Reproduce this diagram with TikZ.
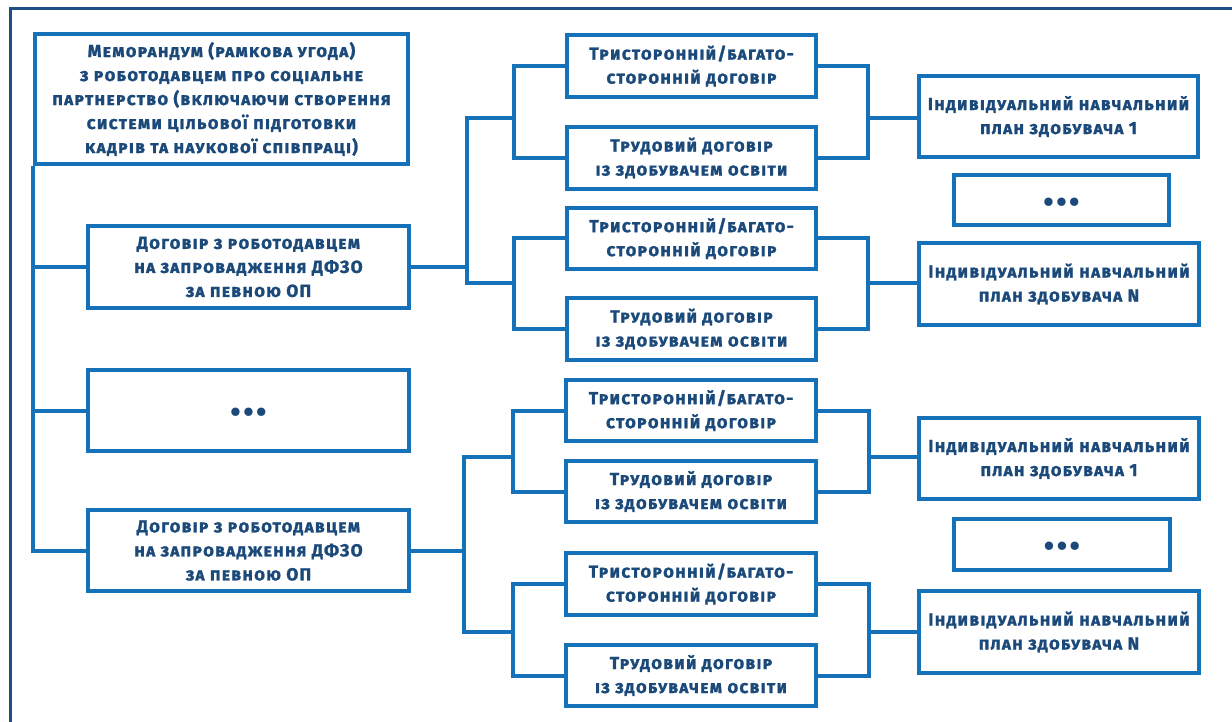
\documentclass[tikz,border=0pt]{standalone}
\usepackage{fontspec}
\setmainfont{Fira Sans}
\newfontfamily\boxfont{Fira Sans}[LetterSpace=7, FakeBold=1.2]
\definecolor{txtc}{HTML}{1B4A7A}
\definecolor{boxc}{HTML}{1571B8}
\definecolor{framec}{HTML}{1D4E84}
\tikzset{
  box/.style={draw=boxc, line width=4pt, fill=white, inner sep=0pt, align=center,
    text=txtc, font=\boxfont\fontsize{17.5}{24}\selectfont\bfseries\scshape},
  conn/.style={draw=boxc, line width=4pt},
  dotsbox/.style={box, font=\fontsize{30}{24}\selectfont\bfseries}
}
\newcommand{\threedots}{\raisebox{-5pt}[\height][\depth]{•\kern2.5pt•\kern2.5pt•}}
\begin{document}
\begin{tikzpicture}[x=1pt,y=-1pt]
\useasboundingbox (0,0) rectangle (1232,722);
% outer frame
\coordinate (fa) at (10,9);
\coordinate (fb) at (1240,9);
\coordinate (fc) at (10,730);
\draw[framec, line width=3pt] (fb) -- (fa) -- (fc);

\node[box, minimum width=373pt, minimum height=130pt] (mem) at (221.5,99)
  {Меморандум (рамкова угода)\\з роботодавцем про соціальне\\партнерство (включаючи створення\\системи цільової підготовки\\кадрів та наукової співпраці)};
\node[box, minimum width=321pt, minimum height=82pt] (d1) at (248.5,267)
  {Договір з роботодавцем\\на запровадження ДФЗО\\за певною ОП};
\node[dotsbox, minimum width=321pt, minimum height=81pt] (dl) at (248.5,410.5) {\threedots};
\node[box, minimum width=321pt, minimum height=81pt] (d2) at (248.5,550.5)
  {Договір з роботодавцем\\на запровадження ДФЗО\\за певною ОП};

\node[box, minimum width=249pt, minimum height=62pt] (t1) at (691.5,66) {Тристоронній/багато-\\сторонній договір};
\node[box, minimum width=249pt, minimum height=62pt] (r1) at (691.5,158) {Трудовий договір\\із здобувачем освіти};
\node[box, minimum width=249pt, minimum height=61pt] (t2) at (691.5,238.5) {Тристоронній/багато-\\сторонній договір};
\node[box, minimum width=249pt, minimum height=62pt] (r2) at (691.5,329) {Трудовий договір\\із здобувачем освіти};
\node[box, minimum width=250pt, minimum height=61pt] (t3) at (691,410.5) {Тристоронній/багато-\\сторонній договір};
\node[box, minimum width=250pt, minimum height=61pt] (r3) at (691,491.5) {Трудовий договір\\із здобувачем освіти};
\node[box, minimum width=250pt, minimum height=62pt] (t4) at (691,584) {Тристоронній/багато-\\сторонній договір};
\node[box, minimum width=250pt, minimum height=61pt] (r4) at (691,675.5) {Трудовий договір\\із здобувачем освіти};

\node[box, minimum width=279pt, minimum height=81pt] (ip1) at (1058.5,116.5) {Індивідуальний навчальний\\план здобувача 1};
\node[dotsbox, minimum width=215pt, minimum height=50pt] (e1) at (1061.5,200) {\threedots};
\node[box, minimum width=280pt, minimum height=82pt] (ipN) at (1059,284) {Індивідуальний навчальний\\план здобувача N};
\node[box, minimum width=280pt, minimum height=81pt] (ip1b) at (1059,458.5) {Індивідуальний навчальний\\план здобувача 1};
\node[dotsbox, minimum width=216pt, minimum height=51pt] (e2) at (1062,544.5) {\threedots};
\node[box, minimum width=280pt, minimum height=82pt] (ipNb) at (1059,632) {Індивідуальний навчальний\\план здобувача N};

% junction coordinates
\coordinate (ja) at (467,267);
\coordinate (jb1) at (514,118);
\coordinate (jb2) at (514,283);
\coordinate (jc1) at (868,118);
\coordinate (jc2) at (868,283);
\coordinate (ka) at (464,550.5);
\coordinate (kb1) at (513,457);
\coordinate (kb2) at (513,632);
\coordinate (kc1) at (869,457);
\coordinate (kc2) at (869,632);

% left trunk
\draw[conn] (mem.south west) |- (d1.west);
\draw[conn] (mem.south west) |- (dl.west);
\draw[conn] (mem.south west) |- (d2.west);

% top group
\draw[conn] (d1.east) -- (d1.east -| ja);
\draw[conn] (jb1) -| (ja) |- (jb2);
\draw[conn] (t1.west) -| (jb1) |- (r1.west);
\draw[conn] (t2.west) -| (jb2) |- (r2.west);
\draw[conn] (t1.east) -| (jc1) |- (r1.east);
\draw[conn] (t2.east) -| (jc2) |- (r2.east);
\draw[conn] (jc1) -- (jc1 -| ip1.west);
\draw[conn] (jc2) -- (jc2 -| ipN.west);

% bottom group
\draw[conn] (d2.east) -- (d2.east -| ka);
\draw[conn] (kb1) -| (ka) |- (kb2);
\draw[conn] (t3.west) -| (kb1) |- (r3.west);
\draw[conn] (t4.west) -| (kb2) |- (r4.west);
\draw[conn] (t3.east) -| (kc1) |- (r3.east);
\draw[conn] (t4.east) -| (kc2) |- (r4.east);
\draw[conn] (kc1) -- (kc1 -| ip1b.west);
\draw[conn] (kc2) -- (kc2 -| ipNb.west);
\end{tikzpicture}
\end{document}
